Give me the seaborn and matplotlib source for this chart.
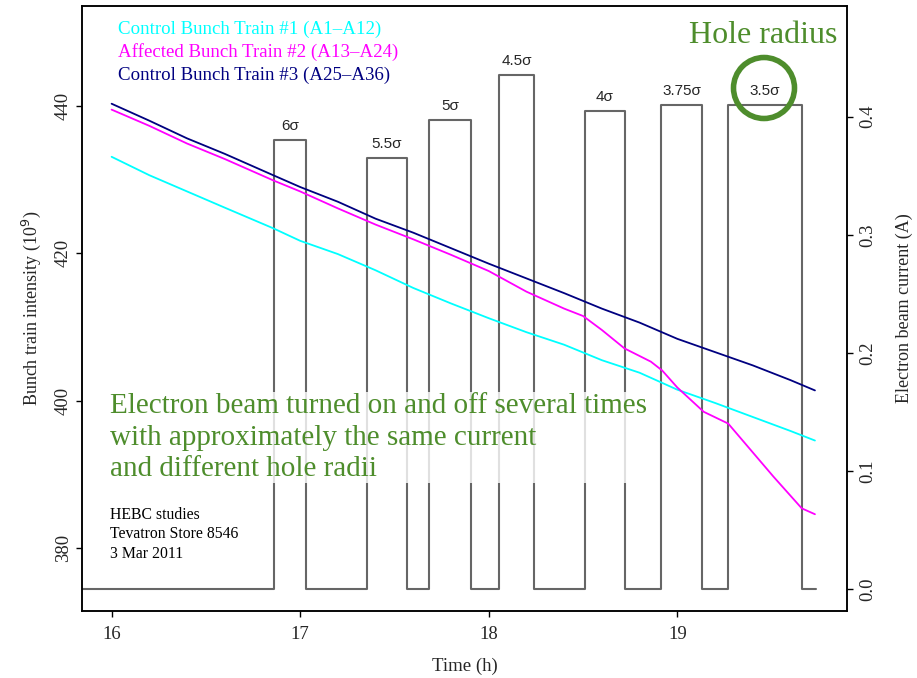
import numpy as np
import pandas as pd
import matplotlib
matplotlib.use("Agg")
import matplotlib.pyplot as plt
from matplotlib.patches import Ellipse
import seaborn as sns

# ==========================================================
# DATA
# ==========================================================

time_train1 = [16.0, 16.2, 16.4, 16.6, 16.857, 17.0, 17.2, 17.4, 17.6, 17.8,
               18.0, 18.2, 18.4, 18.6, 18.8, 19.0, 19.2, 19.4, 19.6, 19.73]
train1 = [433.1, 430.6, 428.4, 426.2, 423.4, 421.7, 419.9, 417.7, 415.3, 413.2,
          411.2, 409.3, 407.6, 405.5, 403.8, 401.5, 399.7, 397.8, 395.9, 394.6]

time_train2 = [16.0, 16.2, 16.4, 16.6, 16.857, 17.0, 17.2, 17.4, 17.6, 17.8,
               18.0, 18.2, 18.4, 18.5, 18.6, 18.72, 18.86, 18.92, 19.0, 19.14,
               19.27, 19.39, 19.51, 19.66, 19.73]
train2 = [439.5, 437.3, 434.9, 432.8, 429.9, 428.4, 426.1, 423.9, 421.9, 419.8,
          417.6, 414.8, 412.5, 411.5, 409.6, 407.1, 405.3, 404.1, 401.8, 398.5,
          396.9, 393.3, 389.7, 385.4, 384.6]

time_train3 = [16.0, 16.2, 16.4, 16.6, 16.857, 17.0, 17.2, 17.4, 17.6, 17.8,
               18.0, 18.2, 18.4, 18.6, 18.8, 19.0, 19.2, 19.4, 19.6, 19.73]
train3 = [440.3, 438.0, 435.6, 433.5, 430.6, 429.0, 427.0, 424.7, 422.8, 420.7,
          418.6, 416.6, 414.6, 412.5, 410.6, 408.4, 406.6, 404.8, 402.8, 401.4]

pulse_start = [16.861, 17.356, 17.683, 18.055, 18.509, 18.916, 19.268]
pulse_end = [17.031, 17.565, 17.906, 18.240, 18.723, 19.133, 19.660]
pulse_current = [0.380, 0.365, 0.397, 0.435, 0.405, 0.410, 0.410]
pulse_label = ["6\u03c3", "5.5\u03c3", "5\u03c3", "4.5\u03c3", "4\u03c3", "3.75\u03c3", "3.5\u03c3"]
beam_t0, beam_t1 = 15.80, 19.736

train_names = [
    "Control Bunch Train #1 (A1\u2013A12)",
    "Affected Bunch Train #2 (A13\u2013A24)",
    "Control Bunch Train #3 (A25\u2013A36)",
]
train_colors = ["#00ffff", "#ff00ff", "#000080"]
green = "#4e8d2c"

# ==========================================================
# FRAMES
# ==========================================================

df = pd.concat([
    pd.DataFrame({"Time": time_train1, "Intensity": train1, "Train": train_names[0]}),
    pd.DataFrame({"Time": time_train2, "Intensity": train2, "Train": train_names[1]}),
    pd.DataFrame({"Time": time_train3, "Intensity": train3, "Train": train_names[2]}),
])

step_t = [beam_t0]
step_i = [0.0]
for s, e, c in zip(pulse_start, pulse_end, pulse_current):
    step_t += [s, s, e, e]
    step_i += [0.0, c, c, 0.0]
step_t.append(beam_t1)
step_i.append(0.0)
beam = pd.DataFrame({"Time": step_t, "Current": step_i})

# ==========================================================
# PLOT
# ==========================================================

sns.set_theme(style="white")
plt.rcParams["font.family"] = ["Liberation Serif", "DejaVu Serif"]

fig = plt.figure(figsize=(9.17, 6.78), dpi=100)
ax = fig.add_axes([82 / 917, 1 - 611 / 678, 765 / 917, 605 / 678])
ax2 = ax.twinx()

sns.lineplot(data=beam, x="Time", y="Current", ax=ax2, color="#666666",
             linewidth=1.5, sort=False, estimator=None)

sns.lineplot(data=df, x="Time", y="Intensity", hue="Train",
             palette=dict(zip(train_names, train_colors)), ax=ax,
             linewidth=1.3, legend=False, sort=False, estimator=None)

ax.set_zorder(ax2.get_zorder() + 1)
ax.patch.set_visible(False)

ax.set_xlim(15.843, 19.90)
ax.set_ylim(371.47, 453.56)
ax2.set_ylim(-0.0184, 0.4937)

ax.set_xticks([16, 17, 18, 19])
ax.set_yticks([380, 400, 420, 440])
ax2.set_yticks([0.0, 0.1, 0.2, 0.3, 0.4])
ax2.set_yticklabels(["0.0", "0.1", "0.2", "0.3", "0.4"])

for a in (ax, ax2):
    for sp in a.spines.values():
        sp.set_color("black")
        sp.set_linewidth(1.1)
ax.tick_params(axis="x", direction="out", length=4.5, width=1, color="black",
               labelsize=13.5, pad=6, bottom=True)
ax.tick_params(axis="y", direction="out", length=4.5, width=1, color="black",
               labelsize=13.5, pad=3, left=True)
ax2.tick_params(axis="y", direction="out", length=4.5, width=1, color="black",
                labelsize=13.5, pad=4, right=True)
plt.setp(ax.get_yticklabels(), rotation=90, va="center")
plt.setp(ax2.get_yticklabels(), rotation=90, va="center")

ax.set_xlabel("Time (h)", fontsize=13.5, labelpad=11)
ax.set_ylabel("Bunch train intensity (10$^{9}$)", fontsize=13, labelpad=8)
ax2.set_ylabel("Electron beam current (A)", fontsize=13, labelpad=14)

# pulse labels
for s, e, c, lab in zip(pulse_start, pulse_end, pulse_current, pulse_label):
    ax2.annotate(lab, xy=((s + e) / 2, c), xytext=(0, 5),
                 textcoords="offset points", ha="center", va="bottom",
                 fontsize=11, family=["Liberation Sans", "DejaVu Sans"])

# legend text lines
for name, col, yy in zip(train_names, train_colors, [450.4, 447.3, 444.2]):
    ax.text(16.034, yy, name, color=col, fontsize=13.6, ha="left", va="center")

ax.text(19.848, 449.6, "Hole radius", color=green, fontsize=23,
        ha="right", va="center")

fig.patches.append(Ellipse((764 / 917, 1 - 88 / 678), 61 / 917, 61 / 678,
                           transform=fig.transFigure, fill=False,
                           edgecolor=green, linewidth=4, zorder=10))

ax.text(15.991, 395.0,
        "Electron beam turned on and off several times\n"
        "with approximately the same current\n"
        "and different hole radii",
        color=green, fontsize=21, ha="left", va="center", linespacing=1.27,
        bbox=dict(facecolor="white", edgecolor="none", alpha=0.8, pad=1))

ax.text(15.991, 381.9, "HEBC studies\nTevatron Store 8546\n3 Mar 2011",
        color="black", fontsize=11.3, ha="left", va="center", linespacing=1.3)

fig.savefig("out.png", dpi=100, facecolor="white")
